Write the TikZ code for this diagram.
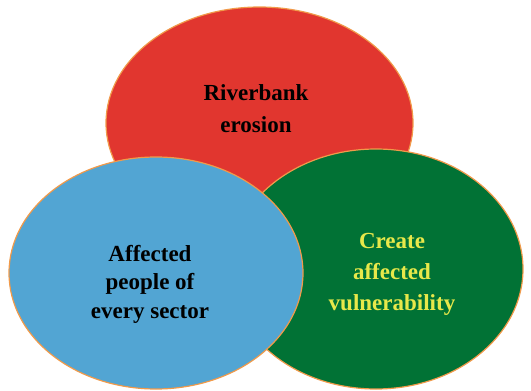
\documentclass[tikz,border=0pt]{standalone}
\usepackage{fontspec}
\setmainfont{Liberation Serif}
\usetikzlibrary{shapes.geometric}

\definecolor{erosionred}{HTML}{E1362F}
\definecolor{peopleblue}{HTML}{52A5D3}
\definecolor{vulngreen}{HTML}{017235}
\definecolor{rimorange}{HTML}{F19A4A}
\definecolor{labelyellow}{HTML}{E8E84A}

\begin{document}
\begin{tikzpicture}[x=1pt, y=-1pt,
    circ/.style = {draw=rimorange, line width=1.2pt, ellipse, inner sep=0pt},
    words/.style = {align=center, font=\fontsize{23}{31}\selectfont\bfseries}]
    \useasboundingbox (0,0) rectangle (531,391);

    % back to front: red, green, blue
    \node[circ, fill=erosionred, minimum width=307pt, minimum height=232pt] (erosion) at (259.5,123) {};
    \node[circ, fill=vulngreen, minimum width=294pt, minimum height=240pt] (vuln) at (376,269) {};
    \node[circ, fill=peopleblue, minimum width=294pt, minimum height=232pt] (people) at (156,273) {};

    \node[words, font=\fontsize{23}{32}\selectfont\bfseries] (erosiontext) at (256,109) {Riverbank\\erosion};
    \node[words, font=\fontsize{23}{28.5}\selectfont\bfseries] (peopletext) at (150,284) {Affected\\people of\\every sector};
    \node[words, text=labelyellow] (vulntext) at (392,274) {Create\\affected\\vulnerability};
\end{tikzpicture}
\end{document}
